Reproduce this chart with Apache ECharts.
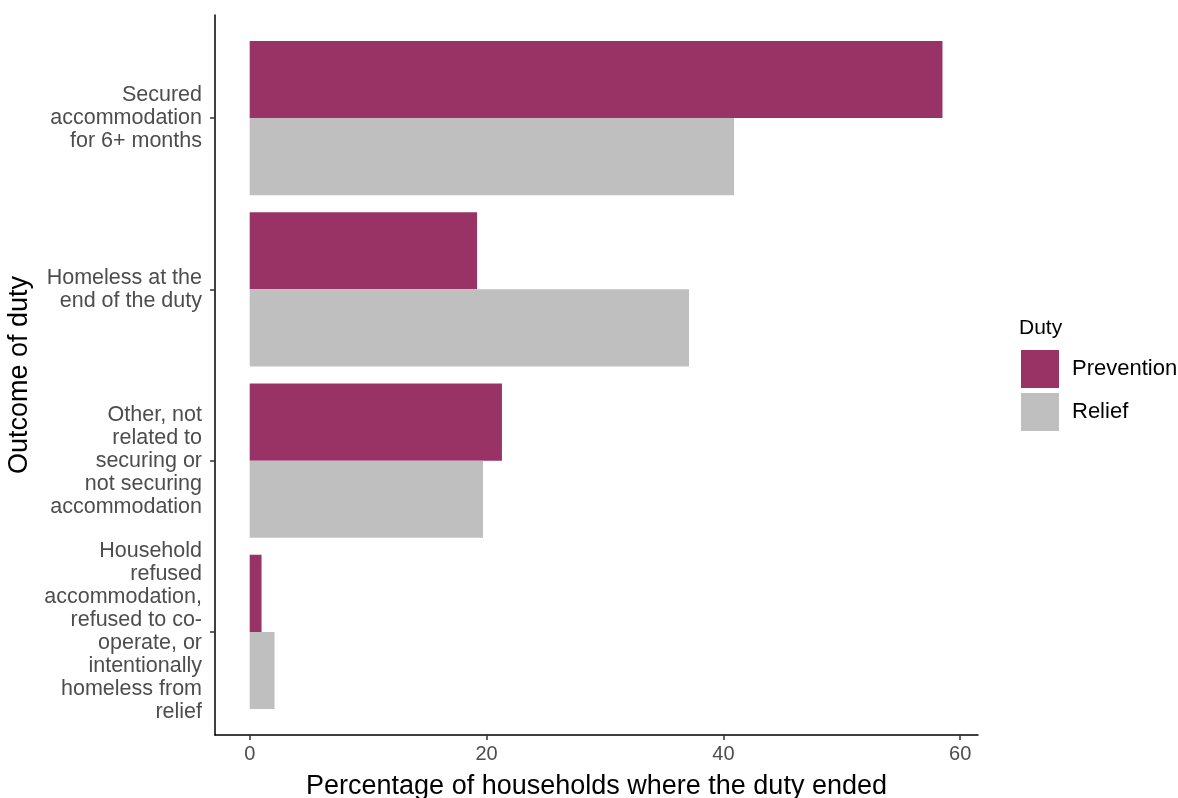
<!DOCTYPE html>
<html><head><meta charset="utf-8">
<script src="https://cdn.jsdelivr.net/npm/echarts@6/dist/echarts.min.js"></script>
<style>html,body{margin:0;padding:0;background:#fff}#c{width:1178px;height:798px}</style>
</head><body><div id="c"></div>
<script>
const categories = [
  'Secured\naccommodation\nfor 6+ months',
  'Homeless at the\nend of the duty',
  'Other, not\nrelated to\nsecuring or\nnot securing\naccommodation',
  'Household\nrefused\naccommodation,\nrefused to co-\noperate, or\nintentionally\nhomeless from\nrelief'
];
const prevention = [58.5, 19.2, 21.3, 1.0];
const relief = [40.9, 37.1, 19.7, 2.1];
const xTicks = [0, 20, 40, 60];
const xMin = -2.93, xMax = 61.5;

const FONT = '"Liberation Sans", Arial, sans-serif';
const chart = echarts.init(document.getElementById('c'), null, {renderer: 'canvas'});
chart.setOption({
  animation: false,
  backgroundColor: '#fff',
  title: {
    text: 'Duty', left: 1019, top: 318, padding: 0,
    textStyle: {fontFamily: FONT, fontSize: 21, fontWeight: 'normal', color: '#000'}
  },
  legend: {
    orient: 'vertical', left: 1021, top: 350, padding: 0,
    itemWidth: 38, itemHeight: 38, itemGap: 5,
    icon: 'rect',
    data: ['Prevention', 'Relief'],
    textStyle: {fontFamily: FONT, fontSize: 22, color: '#000', padding: [3, 0, 0, 8]}
  },
  grid: [
    {left: 215, right: 200, top: 32.4, height: 685.2, containLabel: false, outerBoundsMode: 'none'},
    {left: 215, right: 200, top: 15, height: 720, containLabel: false, outerBoundsMode: 'none'}
  ],
  xAxis: [
    {gridIndex: 0, type: 'value', min: xMin, max: xMax, show: false, splitLine: {show: false}},
    {gridIndex: 1, type: 'value', min: xMin, max: xMax,
     name: 'Percentage of households where the duty ended', nameLocation: 'middle', nameGap: 38,
     nameTextStyle: {fontFamily: FONT, fontSize: 27, color: '#000'},
     axisLine: {show: true, onZero: false, lineStyle: {color: '#000', width: 1.5}},
     axisTick: {show: true, length: 5, customValues: xTicks, lineStyle: {color: '#333', width: 1.5}},
     axisLabel: {customValues: xTicks, margin: 9, fontFamily: FONT, fontSize: 20, color: '#4D4D4D'},
     splitLine: {show: false}}
  ],
  yAxis: [
    {gridIndex: 0, type: 'category', data: categories, inverse: true,
     name: 'Outcome of duty', nameLocation: 'middle', nameGap: 169, nameRotate: 90,
     nameTextStyle: {fontFamily: FONT, fontSize: 27, color: '#000'},
     axisLine: {show: false, onZero: false},
     axisTick: {show: true, alignWithLabel: true, length: 5, lineStyle: {color: '#333', width: 1.5}},
     axisLabel: {margin: 13, fontFamily: FONT, fontSize: 21.5, lineHeight: 23, color: '#4D4D4D', align: 'right'},
     splitLine: {show: false}},
    {gridIndex: 1, type: 'value', min: 0, max: 1,
     axisLine: {show: true, onZero: false, lineStyle: {color: '#000', width: 1.5}},
     axisTick: {show: false}, axisLabel: {show: false}, splitLine: {show: false}}
  ],
  series: [
    {name: 'Prevention', type: 'bar', xAxisIndex: 0, yAxisIndex: 0, data: prevention,
     barCategoryGap: '10%', barGap: '0%', itemStyle: {color: '#993366'}},
    {name: 'Relief', type: 'bar', xAxisIndex: 0, yAxisIndex: 0, data: relief,
     barCategoryGap: '10%', barGap: '0%', itemStyle: {color: '#BFBFBF'}}
  ]
});
</script></body></html>
